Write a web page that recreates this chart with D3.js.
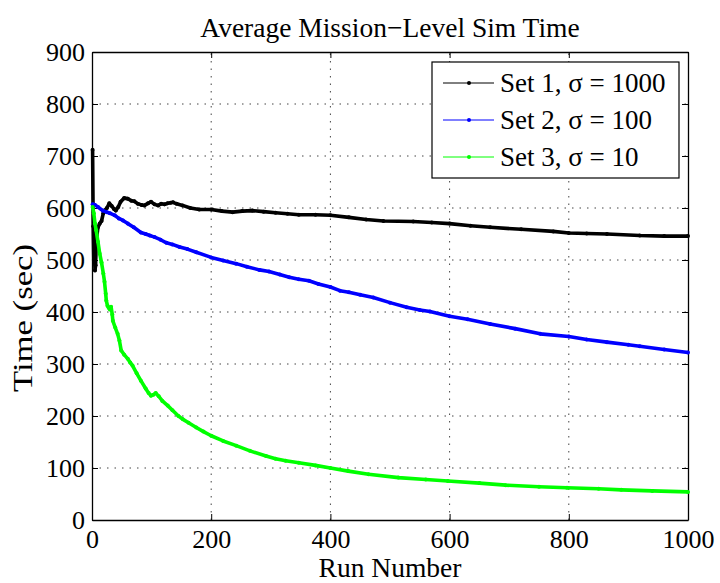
<!DOCTYPE html>
<html>
<head>
<meta charset="utf-8">
<script src="https://cdn.jsdelivr.net/npm/d3@7"></script>
<style>
body { margin: 0; background: #fff; }
text { font-family: "Liberation Serif", serif; }
</style>
</head>
<body>
<div id="chart"></div>
<script>
var title = "Average Mission\u2212Level Sim Time",
  xLabel = "Run Number",
  yLabel = "Time (sec)",
  xTicks = [0, 200, 400, 600, 800, 1000],
  yTicks = [0, 100, 200, 300, 400, 500, 600, 700, 800, 900];

var seriesNames = ["Set 1, \u03c3 = 1000", "Set 2, \u03c3 = 100", "Set 3, \u03c3 = 10"],
  seriesColors = ["#000000", "#0000ff", "#00ff00"];

// running averages (run number, seconds)
var set1Runs = [1, 2, 3, 4, 5, 6, 7, 8, 10, 13, 16, 19, 21, 25, 29, 33, 37, 40, 44, 48, 54, 60, 66, 71, 77, 83, 88, 94, 99, 105, 111, 116, 122, 127, 132, 136, 142, 152, 165, 180, 200, 218, 236, 252, 269, 288, 308, 328, 347, 375, 400, 431, 460, 489, 539, 570, 600, 635, 668, 720, 774, 800, 830, 864, 919, 960, 1000],
  set1Time = [712, 565, 500, 525, 480, 490, 530, 545, 563, 570, 575, 590, 595, 600, 609, 604, 598, 595, 602, 612, 619, 618, 614, 613, 608, 606, 605, 609, 612, 607, 605, 608, 607, 609, 610, 611, 608, 605, 600, 597, 597, 594, 592, 594, 595, 593, 591, 589, 587, 587, 586, 582, 578, 575, 574, 572, 570, 566, 563, 559, 555, 552, 551, 550, 547, 546, 546];

var set2Runs = [1, 5, 10, 18, 25, 30, 38, 45, 52, 60, 70, 82, 90, 97, 105, 115, 125, 135, 147, 160, 175, 200, 220, 242, 260, 281, 297, 315, 331, 347, 364, 380, 400, 416, 431, 450, 472, 500, 528, 550, 567, 600, 630, 668, 710, 752, 800, 830, 864, 900, 919, 960, 1000],
  set2Time = [607, 606, 602, 595, 592, 590, 586, 580, 576, 570, 563, 553, 550, 547, 544, 539, 533, 530, 525, 521, 515, 505, 499, 493, 487, 481, 478, 472, 467, 463, 460, 454, 448, 441, 438, 433, 428, 418, 409, 404, 401, 392, 386, 377, 368, 358, 353, 347, 342, 337, 334, 328, 322];

var set3Runs = [1, 3, 5, 7, 10, 13, 16, 19, 21, 23, 24, 26, 28, 30, 32, 34, 35, 39, 43, 46, 49, 54, 60, 64, 68, 75, 82, 90, 95, 99, 103, 107, 112, 118, 127, 135, 145, 152, 162, 175, 187, 200, 220, 242, 265, 292, 308, 325, 347, 375, 400, 430, 464, 514, 560, 597, 650, 694, 750, 797, 850, 888, 940, 1000],
  set3Time = [602, 590, 570, 557, 535, 512, 495, 474, 458, 435, 422, 412, 408, 405, 410, 395, 383, 370, 358, 345, 326, 318, 310, 303, 297, 282, 268, 253, 244, 239, 241, 244, 238, 229, 220, 211, 200, 194, 187, 178, 170, 162, 152, 143, 133, 123, 118, 114, 110, 105, 100, 94, 88, 81.5, 78, 75, 71, 67, 64, 62, 60, 58, 56, 54];

var w = 720,
  h = 583,
  margin = {top: 52, right: 32, bottom: 63, left: 92},
  font = "Liberation Serif";

var x = d3.scaleLinear().domain([0, 1000]).range([margin.left, w - margin.right]),
  y = d3.scaleLinear().domain([0, 900]).range([h - margin.bottom, margin.top]);

var svg = d3.select("#chart").append("svg")
  .attr("width", w)
  .attr("height", h)
  .attr("font-family", font)
  .style("background", "#fff");

// dotted grid
var grid = svg.append("g").attr("stroke", "#444").attr("stroke-width", 1).attr("stroke-dasharray", "1.5,6");
grid.selectAll(".gx").data(xTicks.slice(1, -1)).enter().append("line")
  .attr("x1", d => x(d)).attr("x2", d => x(d))
  .attr("y1", y(0)).attr("y2", y(900));
grid.selectAll(".gy").data(yTicks.slice(1, -1)).enter().append("line")
  .attr("x1", x(0)).attr("x2", x(1000))
  .attr("y1", d => y(d)).attr("y2", d => y(d));

// axes with inward ticks on all four sides
var xAxis = d3.axisBottom(x).tickValues(xTicks).tickSizeInner(-6).tickSizeOuter(0).tickPadding(10).tickFormat(d3.format("d"));
var yAxis = d3.axisLeft(y).tickValues(yTicks).tickSizeInner(-6).tickSizeOuter(0).tickPadding(7).tickFormat(d3.format("d"));
var xTop = d3.axisTop(x).tickValues(xTicks).tickSizeInner(-6).tickSizeOuter(0).tickFormat("");
var yRight = d3.axisRight(y).tickValues(yTicks).tickSizeInner(-6).tickSizeOuter(0).tickFormat("");

svg.append("g").attr("class", "axis").attr("transform", "translate(0," + y(0) + ")").call(xAxis);
svg.append("g").attr("class", "axis").attr("transform", "translate(" + x(0) + ",0)").call(yAxis);
svg.append("g").attr("class", "axis").attr("transform", "translate(0," + y(900) + ")").call(xTop);
svg.append("g").attr("class", "axis").attr("transform", "translate(" + x(1000) + ",0)").call(yRight);

svg.selectAll(".axis").attr("font-family", font).attr("font-size", 26);
svg.selectAll(".axis text").attr("fill", "#000");
svg.selectAll(".axis line").attr("stroke", "#000");
svg.selectAll(".axis .domain").attr("stroke", "#000").attr("stroke-width", 1.3);

// series
var series = [
  {runs: set1Runs, vals: set1Time},
  {runs: set2Runs, vals: set2Time},
  {runs: set3Runs, vals: set3Time}
];

var line = d3.line()
  .x(d => x(d[0]))
  .y(d => y(d[1]));

series.forEach(function(s, i) {
  var pts = s.runs.map((r, j) => [r, s.vals[j]]);
  var g = svg.append("g");
  g.append("path")
    .attr("d", line(pts))
    .attr("fill", "none")
    .attr("stroke", seriesColors[i])
    .attr("stroke-width", 3.6)
    .attr("stroke-linejoin", "round");
  g.selectAll("circle").data(pts).enter().append("circle")
    .attr("cx", d => x(d[0]))
    .attr("cy", d => y(d[1]))
    .attr("r", 2)
    .attr("fill", seriesColors[i]);
});

// legend
var legend = svg.append("g").attr("transform", "translate(432,62)");
legend.append("rect")
  .attr("width", 247).attr("height", 116)
  .attr("fill", "#fff").attr("stroke", "#000").attr("stroke-width", 1.2);
seriesNames.forEach(function(name, i) {
  var ly = 21 + i * 37;
  legend.append("line")
    .attr("x1", 11).attr("x2", 62).attr("y1", ly).attr("y2", ly)
    .attr("stroke", seriesColors[i]).attr("stroke-width", 1);
  legend.append("circle")
    .attr("cx", 37).attr("cy", ly).attr("r", 2)
    .attr("fill", seriesColors[i]);
  legend.append("text")
    .attr("x", 68).attr("y", ly + 9)
    .attr("font-size", 27)
    .text(name);
});

// titles
svg.append("text")
  .attr("x", (x(0) + x(1000)) / 2).attr("y", 37)
  .attr("text-anchor", "middle")
  .attr("font-size", 27.5)
  .text(title);

svg.append("text")
  .attr("x", (x(0) + x(1000)) / 2).attr("y", 577)
  .attr("text-anchor", "middle")
  .attr("font-size", 27.5)
  .text(xLabel);

svg.append("text")
  .attr("transform", "translate(32,318) rotate(-90)")
  .attr("text-anchor", "middle")
  .attr("font-size", 28)
  .attr("textLength", 148)
  .attr("lengthAdjust", "spacingAndGlyphs")
  .text(yLabel);
</script>
</body>
</html>
